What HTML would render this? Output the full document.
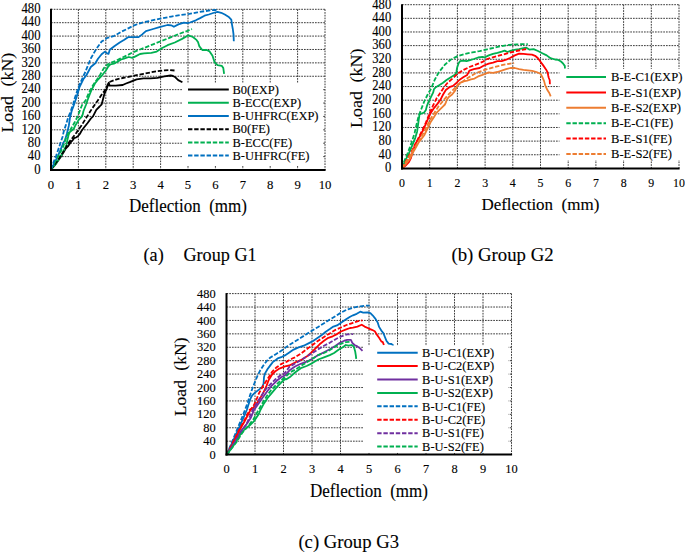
<!DOCTYPE html>
<html><head><meta charset="utf-8"><style>
html,body{margin:0;padding:0;background:#fff;}
svg{display:block;}
text{font-family:"Liberation Serif", serif;fill:#000;stroke:#000;stroke-width:0.12px;}
</style></head><body>
<svg width="685" height="552" viewBox="0 0 685 552">
<rect width="685" height="552" fill="#fff"/>
<g stroke="#3a3a3a" stroke-width="1" stroke-dasharray="1.7 1.05" fill="none">
<line x1="51.00" y1="156.61" x2="325.00" y2="156.61"/>
<line x1="51.00" y1="143.22" x2="325.00" y2="143.22"/>
<line x1="51.00" y1="129.82" x2="325.00" y2="129.82"/>
<line x1="51.00" y1="116.43" x2="325.00" y2="116.43"/>
<line x1="51.00" y1="103.04" x2="325.00" y2="103.04"/>
<line x1="51.00" y1="89.65" x2="325.00" y2="89.65"/>
<line x1="51.00" y1="76.26" x2="325.00" y2="76.26"/>
<line x1="51.00" y1="62.87" x2="325.00" y2="62.87"/>
<line x1="51.00" y1="49.48" x2="325.00" y2="49.48"/>
<line x1="51.00" y1="36.08" x2="325.00" y2="36.08"/>
<line x1="51.00" y1="22.69" x2="325.00" y2="22.69"/>
<line x1="51.00" y1="9.30" x2="325.00" y2="9.30"/>
<line x1="78.40" y1="9.30" x2="78.40" y2="170.00"/>
<line x1="105.80" y1="9.30" x2="105.80" y2="170.00"/>
<line x1="133.20" y1="9.30" x2="133.20" y2="170.00"/>
<line x1="160.60" y1="9.30" x2="160.60" y2="170.00"/>
<line x1="188.00" y1="9.30" x2="188.00" y2="170.00"/>
<line x1="215.40" y1="9.30" x2="215.40" y2="170.00"/>
<line x1="242.80" y1="9.30" x2="242.80" y2="170.00"/>
<line x1="270.20" y1="9.30" x2="270.20" y2="170.00"/>
<line x1="297.60" y1="9.30" x2="297.60" y2="170.00"/>
<line x1="325.00" y1="9.30" x2="325.00" y2="170.00"/>
</g>
<g fill="none" stroke-linejoin="round" stroke-linecap="butt">
<polyline points="51.0,169.5 55.1,164.8 58.2,160.4 61.4,155.9 64.0,151.5 65.9,148.3 68.4,145.8 70.9,142.0 72.8,140.1 74.1,138.2 76.0,137.5 77.9,136.3 79.8,134.0 81.3,131.2 83.8,127.8 87.6,123.0 90.9,118.5 93.0,116.3 96.3,109.8 99.6,106.5 101.7,104.3 102.8,100.0 104.5,93.5 106.1,90.2 107.7,85.9 108.8,82.6 109.6,85.7 115.8,85.7 122.7,85.0 126.0,83.5 129.7,82.2 136.6,79.4 143.5,78.4 150.5,78.4 157.4,77.8 164.3,76.4 170.6,75.5 173.0,76.0 175.4,77.3 178.2,80.1 182.4,82.2" stroke="#000000" stroke-width="1.8"/>
<polyline points="51.0,169.5 55.7,164.2 58.9,159.1 62.0,154.0 64.6,149.0 66.5,144.5 67.4,140.0 68.6,134.8 69.6,132.3 72.0,130.4 73.9,128.5 75.1,125.9 77.0,122.8 78.9,119.6 81.5,117.0 82.7,114.5 83.4,111.3 84.6,108.2 85.9,105.0 87.6,100.0 89.4,95.3 91.2,90.7 94.9,83.5 98.5,79.0 102.1,75.3 105.7,70.8 108.4,66.3 110.2,64.5 113.9,63.6 117.5,61.8 121.1,59.5 124.0,58.6 128.8,57.0 132.4,57.9 136.0,56.1 140.0,54.0 144.0,53.4 151.3,52.8 156.7,51.6 162.1,48.0 167.6,45.2 174.8,42.5 182.1,38.9 188.4,35.3 192.9,37.0 196.5,39.9 198.0,42.0 199.4,46.4 202.3,50.0 206.7,50.0 209.6,51.4 212.5,55.8 214.6,62.3 217.5,65.2 221.9,65.9 223.3,68.1 224.1,73.9" stroke="#00b050" stroke-width="1.8"/>
<polyline points="51.0,169.5 55.1,161.6 58.2,155.3 61.4,147.7 63.5,142.5 65.0,140.3 66.8,134.0 68.8,125.9 70.0,117.7 71.6,111.3 73.9,105.0 76.7,96.7 79.5,87.0 83.3,79.3 86.5,75.0 90.8,67.0 95.3,63.3 98.0,58.8 101.6,54.3 104.9,51.6 107.1,53.4 108.5,53.9 109.8,49.8 114.3,46.2 119.7,42.5 124.3,39.8 128.4,37.1 133.3,37.1 138.6,37.1 142.2,34.4 145.9,31.1 153.1,29.0 160.3,26.8 167.6,25.0 171.2,25.3 173.9,26.8 178.4,24.4 183.9,22.6 187.5,23.2 190.0,22.5 195.8,20.3 200.1,18.1 204.5,15.7 208.8,14.5 213.2,13.0 217.5,11.9 221.2,12.8 224.8,14.5 228.4,16.7 231.3,19.6 232.0,24.6 232.8,29.0 233.5,34.1 233.8,41.3" stroke="#0070c0" stroke-width="1.8"/>
<polyline points="51.0,169.5 58.0,160.0 64.0,151.0 68.8,142.6 76.2,133.0 81.1,126.1 86.5,117.4 92.0,108.7 97.4,101.1 101.7,94.6 105.0,90.2 107.2,85.9 109.3,82.1 115.8,79.6 122.7,78.0 129.7,76.6 136.6,75.2 143.5,73.8 150.5,72.4 157.4,71.2 164.3,70.3 169.9,70.1 175.5,70.6" stroke="#000000" stroke-width="1.8" stroke-dasharray="4.4 1.8"/>
<polyline points="51.0,169.5 55.0,162.0 57.6,157.5 60.1,152.8 62.7,147.7 64.8,141.8 65.8,138.2 67.5,134.8 70.0,130.4 72.6,125.9 75.1,121.5 77.0,117.7 78.9,113.2 80.5,108.8 82.1,105.0 85.8,100.0 89.4,91.6 93.0,85.3 96.7,79.9 100.3,74.4 103.9,68.1 107.5,64.5 111.1,62.7 115.7,60.9 120.2,58.6 124.0,56.8 128.5,54.6 132.4,52.5 140.0,49.5 144.0,48.0 153.1,44.3 162.1,40.7 171.2,37.1 180.2,33.5 187.5,30.8 192.0,29.0" stroke="#00b050" stroke-width="1.8" stroke-dasharray="4.4 1.8"/>
<polyline points="51.0,169.5 53.8,161.6 56.3,155.3 58.9,147.7 60.8,142.0 62.5,137.0 63.7,131.6 66.2,124.0 68.1,117.7 70.7,111.3 73.2,104.0 74.5,99.0 76.7,92.4 80.0,83.5 85.3,72.0 90.8,58.5 96.2,49.0 101.6,41.6 107.1,38.0 114.3,35.8 121.5,31.7 128.8,28.1 134.2,25.3 140.0,23.3 144.0,22.2 153.1,20.2 162.1,18.3 171.2,16.6 180.2,15.1 189.3,13.8 197.2,12.4 204.5,11.2 211.7,10.2 218.3,9.9" stroke="#0070c0" stroke-width="1.8" stroke-dasharray="4.4 1.8"/>
</g>
<rect x="182" y="83" width="141" height="82" fill="#fff"/>
<line x1="188" y1="89.60" x2="228.8" y2="89.60" stroke="#000000" stroke-width="2"/>
<text transform="translate(232.5,93.80) scale(1,1.05)" font-size="12.5">B0(EXP)</text>
<line x1="188" y1="102.80" x2="228.8" y2="102.80" stroke="#00b050" stroke-width="2"/>
<text transform="translate(232.5,107.00) scale(1,1.05)" font-size="12.5">B-ECC(EXP)</text>
<line x1="188" y1="116.00" x2="228.8" y2="116.00" stroke="#0070c0" stroke-width="2"/>
<text transform="translate(232.5,120.20) scale(1,1.05)" font-size="12.5">B-UHFRC(EXP)</text>
<line x1="188" y1="129.20" x2="228.8" y2="129.20" stroke="#000000" stroke-width="2" stroke-dasharray="4.4 1.8"/>
<text transform="translate(232.5,133.40) scale(1,1.05)" font-size="12.5">B0(FE)</text>
<line x1="188" y1="142.40" x2="228.8" y2="142.40" stroke="#00b050" stroke-width="2" stroke-dasharray="4.4 1.8"/>
<text transform="translate(232.5,146.60) scale(1,1.05)" font-size="12.5">B-ECC(FE)</text>
<line x1="188" y1="155.60" x2="228.8" y2="155.60" stroke="#0070c0" stroke-width="2" stroke-dasharray="4.4 1.8"/>
<text transform="translate(232.5,159.80) scale(1,1.05)" font-size="12.5">B-UHFRC(FE)</text>
<line x1="51" y1="8.80" x2="51" y2="171.00" stroke="#000" stroke-width="2"/>
<line x1="50" y1="170" x2="325.6" y2="170" stroke="#000" stroke-width="2"/>
<text transform="translate(40.50,173.80) scale(1,1.07)" font-size="12.7" text-anchor="end" xml:space="preserve">0</text>
<text transform="translate(40.50,160.41) scale(1,1.07)" font-size="12.7" text-anchor="end" xml:space="preserve">40</text>
<text transform="translate(40.50,147.02) scale(1,1.07)" font-size="12.7" text-anchor="end" xml:space="preserve">80</text>
<text transform="translate(40.50,133.62) scale(1,1.07)" font-size="12.7" text-anchor="end" xml:space="preserve">120</text>
<text transform="translate(40.50,120.23) scale(1,1.07)" font-size="12.7" text-anchor="end" xml:space="preserve">160</text>
<text transform="translate(40.50,106.84) scale(1,1.07)" font-size="12.7" text-anchor="end" xml:space="preserve">200</text>
<text transform="translate(40.50,93.45) scale(1,1.07)" font-size="12.7" text-anchor="end" xml:space="preserve">240</text>
<text transform="translate(40.50,80.06) scale(1,1.07)" font-size="12.7" text-anchor="end" xml:space="preserve">280</text>
<text transform="translate(40.50,66.67) scale(1,1.07)" font-size="12.7" text-anchor="end" xml:space="preserve">320</text>
<text transform="translate(40.50,53.28) scale(1,1.07)" font-size="12.7" text-anchor="end" xml:space="preserve">360</text>
<text transform="translate(40.50,39.88) scale(1,1.07)" font-size="12.7" text-anchor="end" xml:space="preserve">400</text>
<text transform="translate(40.50,26.49) scale(1,1.07)" font-size="12.7" text-anchor="end" xml:space="preserve">440</text>
<text transform="translate(40.50,13.10) scale(1,1.07)" font-size="12.7" text-anchor="end" xml:space="preserve">480</text>
<text transform="translate(51.00,188.7) scale(1,1.03)" font-size="12.7" text-anchor="middle">0</text>
<text transform="translate(78.40,188.7) scale(1,1.03)" font-size="12.7" text-anchor="middle">1</text>
<text transform="translate(105.80,188.7) scale(1,1.03)" font-size="12.7" text-anchor="middle">2</text>
<text transform="translate(133.20,188.7) scale(1,1.03)" font-size="12.7" text-anchor="middle">3</text>
<text transform="translate(160.60,188.7) scale(1,1.03)" font-size="12.7" text-anchor="middle">4</text>
<text transform="translate(188.00,188.7) scale(1,1.03)" font-size="12.7" text-anchor="middle">5</text>
<text transform="translate(215.40,188.7) scale(1,1.03)" font-size="12.7" text-anchor="middle">6</text>
<text transform="translate(242.80,188.7) scale(1,1.03)" font-size="12.7" text-anchor="middle">7</text>
<text transform="translate(270.20,188.7) scale(1,1.03)" font-size="12.7" text-anchor="middle">8</text>
<text transform="translate(297.60,188.7) scale(1,1.03)" font-size="12.7" text-anchor="middle">9</text>
<text transform="translate(325.00,188.7) scale(1,1.03)" font-size="12.7" text-anchor="middle">10</text>
<text transform="translate(129,212.4) scale(1,1.07)" font-size="17" xml:space="preserve">Deflection  (mm)</text>
<text transform="translate(7.3,114.3) rotate(-90) scale(1.05,1)" font-size="17" text-anchor="middle" dominant-baseline="central">Load</text>
<text transform="translate(7.3,69.6) rotate(-90) scale(1.05,1)" font-size="17" text-anchor="middle" dominant-baseline="central">(kN)</text>
<g stroke="#3a3a3a" stroke-width="1" stroke-dasharray="1.7 1.05" fill="none">
<line x1="402.00" y1="154.76" x2="679.00" y2="154.76"/>
<line x1="402.00" y1="141.12" x2="679.00" y2="141.12"/>
<line x1="402.00" y1="127.47" x2="679.00" y2="127.47"/>
<line x1="402.00" y1="113.83" x2="679.00" y2="113.83"/>
<line x1="402.00" y1="100.19" x2="679.00" y2="100.19"/>
<line x1="402.00" y1="86.55" x2="679.00" y2="86.55"/>
<line x1="402.00" y1="72.91" x2="679.00" y2="72.91"/>
<line x1="402.00" y1="59.27" x2="679.00" y2="59.27"/>
<line x1="402.00" y1="45.62" x2="679.00" y2="45.62"/>
<line x1="402.00" y1="31.98" x2="679.00" y2="31.98"/>
<line x1="402.00" y1="18.34" x2="679.00" y2="18.34"/>
<line x1="402.00" y1="4.70" x2="679.00" y2="4.70"/>
<line x1="429.70" y1="4.70" x2="429.70" y2="168.40"/>
<line x1="457.40" y1="4.70" x2="457.40" y2="168.40"/>
<line x1="485.10" y1="4.70" x2="485.10" y2="168.40"/>
<line x1="512.80" y1="4.70" x2="512.80" y2="168.40"/>
<line x1="540.50" y1="4.70" x2="540.50" y2="168.40"/>
<line x1="568.20" y1="4.70" x2="568.20" y2="168.40"/>
<line x1="595.90" y1="4.70" x2="595.90" y2="168.40"/>
<line x1="623.60" y1="4.70" x2="623.60" y2="168.40"/>
<line x1="651.30" y1="4.70" x2="651.30" y2="168.40"/>
<line x1="679.00" y1="4.70" x2="679.00" y2="168.40"/>
</g>
<g fill="none" stroke-linejoin="round" stroke-linecap="butt">
<polyline points="402.0,168.3 405.1,160.9 408.9,153.3 412.7,144.4 415.2,138.1 417.1,131.7 418.6,120.8 419.5,114.4 421.3,113.5 424.1,112.6 425.9,109.9 426.8,106.3 428.6,101.7 430.9,97.2 433.1,92.7 434.0,89.1 435.8,87.2 439.5,85.0 443.1,82.7 446.5,80.0 452.0,76.4 455.7,74.2 456.4,72.0 457.1,67.7 458.6,63.3 460.0,61.2 463.6,60.7 466.5,61.2 470.1,60.1 473.8,59.0 478.1,57.5 482.5,56.8 485.0,57.3 488.7,55.4 493.0,53.9 497.4,52.9 501.7,51.7 504.6,50.6 507.5,52.0 511.2,50.6 515.5,49.6 519.1,49.1 523.5,48.1 526.4,47.7 529.3,49.6 533.6,49.1 538.0,51.0 542.3,53.2 546.7,55.4 550.5,58.2 555.0,59.5 558.3,59.9 561.0,61.5 563.2,63.7 564.8,65.9 565.0,68.6" stroke="#00b050" stroke-width="1.8"/>
<polyline points="402.0,168.3 405.1,166.0 408.9,162.2 410.8,158.4 412.7,152.0 415.2,144.4 419.0,138.1 423.2,130.0 426.8,121.7 430.4,113.5 434.0,108.1 437.6,103.6 440.4,99.9 443.1,94.5 445.8,90.0 449.4,87.2 453.0,85.9 456.7,82.7 459.3,80.0 463.6,77.1 467.2,74.9 469.4,70.6 473.8,69.1 479.6,68.0 483.9,65.5 488.7,63.6 493.0,62.6 497.4,61.2 501.7,61.2 506.1,59.7 510.4,57.8 514.8,55.4 519.1,53.6 523.5,53.9 527.8,54.3 532.0,54.6 535.1,55.8 538.0,58.3 540.5,61.7 543.2,65.4 546.0,69.4 547.7,72.5 548.2,75.5 548.8,78.0 549.7,80.0 549.9,84.3" stroke="#ff0000" stroke-width="1.8"/>
<polyline points="402.0,168.3 406.3,163.4 410.1,158.4 414.0,150.7 419.0,141.9 424.1,135.5 426.8,130.0 430.4,122.6 434.0,117.1 436.7,112.6 439.5,109.9 443.1,106.3 444.9,104.5 445.8,102.6 446.7,99.9 448.5,97.2 452.1,94.5 454.9,90.9 457.6,85.4 460.0,82.9 463.6,81.4 467.2,80.7 470.9,79.3 474.5,78.6 478.1,76.4 482.5,74.9 484.3,74.2 488.7,72.3 493.0,72.8 497.4,72.0 501.7,70.6 506.1,69.1 510.4,68.0 514.8,68.0 519.1,69.1 523.5,69.9 527.8,70.3 532.2,70.9 536.5,72.0 540.5,73.8 542.4,77.2 544.1,81.1 545.2,85.4 547.4,90.1 549.3,93.0 550.7,96.4" stroke="#ed7d31" stroke-width="1.8"/>
<polyline points="402.0,168.3 404.4,160.9 407.6,153.3 411.4,143.1 414.6,133.0 416.8,123.5 418.6,116.2 421.3,109.0 424.1,101.7 427.7,94.5 431.3,88.2 434.6,80.0 439.0,72.0 444.8,64.8 450.6,59.7 457.8,56.1 465.1,53.9 472.3,52.4 479.6,51.1 487.2,49.3 494.5,47.6 501.7,46.1 509.0,44.9 516.2,44.4 523.5,44.1 527.8,44.1" stroke="#00b050" stroke-width="1.8" stroke-dasharray="4.4 1.8"/>
<polyline points="402.0,168.3 407.6,158.4 412.7,149.5 417.8,139.3 422.8,129.2 425.9,122.6 429.5,113.5 433.1,105.4 436.7,98.1 440.4,92.7 444.0,87.2 447.6,82.7 453.5,77.8 457.8,73.5 463.6,69.9 469.4,67.0 475.2,64.8 482.5,61.9 487.2,59.0 494.5,56.8 501.7,54.9 509.0,52.9 516.2,51.0 523.5,49.6 527.1,48.8" stroke="#ff0000" stroke-width="1.8" stroke-dasharray="4.4 1.8"/>
<polyline points="402.0,168.3 407.6,159.6 412.7,150.7 419.0,140.6 425.0,130.0 429.5,120.8 434.0,113.5 438.6,106.3 443.1,100.8 447.6,95.4 453.0,90.0 457.0,85.7 462.5,81.7 468.0,77.8 475.2,73.5 482.5,70.6 487.2,69.1 494.5,67.0 501.7,65.2 509.0,63.8 514.1,63.0" stroke="#ed7d31" stroke-width="1.8" stroke-dasharray="4.4 1.8"/>
</g>
<rect x="559.5" y="68.8" width="121.5" height="91.2" fill="#fff"/>
<line x1="566.3" y1="77.00" x2="606" y2="77.00" stroke="#00b050" stroke-width="2"/>
<text transform="translate(611,81.20) scale(1,1.05)" font-size="12.6">B-E-C1(EXP)</text>
<line x1="566.3" y1="92.40" x2="606" y2="92.40" stroke="#ff0000" stroke-width="2"/>
<text transform="translate(611,96.60) scale(1,1.05)" font-size="12.6">B-E-S1(EXP)</text>
<line x1="566.3" y1="107.80" x2="606" y2="107.80" stroke="#ed7d31" stroke-width="2"/>
<text transform="translate(611,112.00) scale(1,1.05)" font-size="12.6">B-E-S2(EXP)</text>
<line x1="566.3" y1="123.20" x2="606" y2="123.20" stroke="#00b050" stroke-width="2" stroke-dasharray="4.4 1.8"/>
<text transform="translate(611,127.40) scale(1,1.05)" font-size="12.6">B-E-C1(FE)</text>
<line x1="566.3" y1="138.60" x2="606" y2="138.60" stroke="#ff0000" stroke-width="2" stroke-dasharray="4.4 1.8"/>
<text transform="translate(611,142.80) scale(1,1.05)" font-size="12.6">B-E-S1(FE)</text>
<line x1="566.3" y1="154.00" x2="606" y2="154.00" stroke="#ed7d31" stroke-width="2" stroke-dasharray="4.4 1.8"/>
<text transform="translate(611,158.20) scale(1,1.05)" font-size="12.6">B-E-S2(FE)</text>
<line x1="402" y1="4.20" x2="402" y2="169.40" stroke="#000" stroke-width="2"/>
<line x1="401" y1="168.4" x2="679.6" y2="168.4" stroke="#000" stroke-width="2"/>
<text transform="translate(391.20,172.20) scale(1,1.08)" font-size="12.6" text-anchor="end" xml:space="preserve">0</text>
<text transform="translate(391.20,158.56) scale(1,1.08)" font-size="12.6" text-anchor="end" xml:space="preserve">40</text>
<text transform="translate(391.20,144.92) scale(1,1.08)" font-size="12.6" text-anchor="end" xml:space="preserve">80</text>
<text transform="translate(391.20,131.28) scale(1,1.08)" font-size="12.6" text-anchor="end" xml:space="preserve">120</text>
<text transform="translate(391.20,117.63) scale(1,1.08)" font-size="12.6" text-anchor="end" xml:space="preserve">160</text>
<text transform="translate(391.20,103.99) scale(1,1.08)" font-size="12.6" text-anchor="end" xml:space="preserve">200</text>
<text transform="translate(391.20,90.35) scale(1,1.08)" font-size="12.6" text-anchor="end" xml:space="preserve">240</text>
<text transform="translate(391.20,76.71) scale(1,1.08)" font-size="12.6" text-anchor="end" xml:space="preserve">280</text>
<text transform="translate(391.20,63.07) scale(1,1.08)" font-size="12.6" text-anchor="end" xml:space="preserve">320</text>
<text transform="translate(391.20,49.42) scale(1,1.08)" font-size="12.6" text-anchor="end" xml:space="preserve">360</text>
<text transform="translate(391.20,35.78) scale(1,1.08)" font-size="12.6" text-anchor="end" xml:space="preserve">400</text>
<text transform="translate(391.20,22.14) scale(1,1.08)" font-size="12.6" text-anchor="end" xml:space="preserve">440</text>
<text transform="translate(391.20,8.50) scale(1,1.08)" font-size="12.6" text-anchor="end" xml:space="preserve">480</text>
<text transform="translate(402.00,187.3) scale(1,1.12)" font-size="11.9" text-anchor="middle">0</text>
<text transform="translate(429.70,187.3) scale(1,1.12)" font-size="11.9" text-anchor="middle">1</text>
<text transform="translate(457.40,187.3) scale(1,1.12)" font-size="11.9" text-anchor="middle">2</text>
<text transform="translate(485.10,187.3) scale(1,1.12)" font-size="11.9" text-anchor="middle">3</text>
<text transform="translate(512.80,187.3) scale(1,1.12)" font-size="11.9" text-anchor="middle">4</text>
<text transform="translate(540.50,187.3) scale(1,1.12)" font-size="11.9" text-anchor="middle">5</text>
<text transform="translate(568.20,187.3) scale(1,1.12)" font-size="11.9" text-anchor="middle">6</text>
<text transform="translate(595.90,187.3) scale(1,1.12)" font-size="11.9" text-anchor="middle">7</text>
<text transform="translate(623.60,187.3) scale(1,1.12)" font-size="11.9" text-anchor="middle">8</text>
<text transform="translate(651.30,187.3) scale(1,1.12)" font-size="11.9" text-anchor="middle">9</text>
<text transform="translate(679.00,187.3) scale(1,1.12)" font-size="11.9" text-anchor="middle">10</text>
<text transform="translate(481.4,210.0) scale(1,1.02)" font-size="17" xml:space="preserve">Deflection  (mm)</text>
<text transform="translate(356.4,109.5) rotate(-90) scale(1.06,1)" font-size="17" text-anchor="middle" dominant-baseline="central">Load</text>
<text transform="translate(356.4,65.4) rotate(-90) scale(1.06,1)" font-size="17" text-anchor="middle" dominant-baseline="central">(kN)</text>
<g stroke="#3a3a3a" stroke-width="1" stroke-dasharray="1.7 1.05" fill="none">
<line x1="226.50" y1="441.18" x2="511.50" y2="441.18"/>
<line x1="226.50" y1="427.77" x2="511.50" y2="427.77"/>
<line x1="226.50" y1="414.35" x2="511.50" y2="414.35"/>
<line x1="226.50" y1="400.93" x2="511.50" y2="400.93"/>
<line x1="226.50" y1="387.52" x2="511.50" y2="387.52"/>
<line x1="226.50" y1="374.10" x2="511.50" y2="374.10"/>
<line x1="226.50" y1="360.68" x2="511.50" y2="360.68"/>
<line x1="226.50" y1="347.27" x2="511.50" y2="347.27"/>
<line x1="226.50" y1="333.85" x2="511.50" y2="333.85"/>
<line x1="226.50" y1="320.43" x2="511.50" y2="320.43"/>
<line x1="226.50" y1="307.02" x2="511.50" y2="307.02"/>
<line x1="226.50" y1="293.60" x2="511.50" y2="293.60"/>
<line x1="255.00" y1="293.60" x2="255.00" y2="454.60"/>
<line x1="283.50" y1="293.60" x2="283.50" y2="454.60"/>
<line x1="312.00" y1="293.60" x2="312.00" y2="454.60"/>
<line x1="340.50" y1="293.60" x2="340.50" y2="454.60"/>
<line x1="369.00" y1="293.60" x2="369.00" y2="454.60"/>
<line x1="397.50" y1="293.60" x2="397.50" y2="454.60"/>
<line x1="426.00" y1="293.60" x2="426.00" y2="454.60"/>
<line x1="454.50" y1="293.60" x2="454.50" y2="454.60"/>
<line x1="483.00" y1="293.60" x2="483.00" y2="454.60"/>
<line x1="511.50" y1="293.60" x2="511.50" y2="454.60"/>
</g>
<g fill="none" stroke-linejoin="round" stroke-linecap="butt">
<polyline points="226.8,454.6 233.0,441.1 238.6,428.7 243.1,418.6 246.8,410.0 248.6,404.3 250.4,398.9 252.2,395.3 255.0,392.6 258.6,389.9 262.2,387.1 263.6,383.5 264.0,377.2 264.9,373.6 267.6,369.0 270.3,365.4 273.1,361.8 275.8,360.0 277.7,358.3 282.0,356.8 284.9,355.4 289.3,352.5 293.6,349.6 298.0,347.6 303.7,345.7 308.0,343.6 312.4,341.4 316.7,338.5 321.1,335.6 325.4,332.0 329.8,329.1 333.4,326.6 337.0,325.4 341.4,322.5 345.7,319.6 350.1,316.7 353.0,315.3 356.7,313.8 360.3,311.7 363.2,312.7 367.5,312.4 370.4,313.1 372.6,315.3 375.5,318.9 377.7,322.5 379.1,326.9 381.3,330.5 383.5,333.4 384.9,337.0 386.4,340.7 388.6,343.6 391.4,344.0 393.6,345.7" stroke="#0070c0" stroke-width="1.8"/>
<polyline points="226.8,454.6 234.1,441.1 239.7,429.8 244.2,422.0 249.5,412.0 250.4,410.0 252.5,408.5 255.6,405.0 258.8,400.4 262.9,393.6 266.5,385.9 268.7,380.0 272.1,374.5 275.8,370.9 279.4,368.6 285.0,366.3 289.3,365.5 293.6,363.3 297.0,361.5 300.8,360.2 306.6,356.6 310.9,353.0 315.3,348.6 319.6,344.3 324.0,340.7 328.3,337.8 332.7,336.3 337.0,334.1 341.0,331.5 345.5,329.6 350.1,328.0 353.0,327.6 357.4,326.6 361.7,324.7 364.6,326.6 368.3,328.3 371.9,329.8 374.8,331.2 377.0,334.9 379.1,337.8 381.3,341.4 382.8,342.1 383.9,345.0" stroke="#ff0000" stroke-width="1.8"/>
<polyline points="226.8,454.6 235.2,441.1 240.9,431.0 246.5,424.2 251.0,417.5 254.0,410.0 258.6,403.4 263.1,397.1 267.6,390.8 272.1,385.3 276.7,380.8 281.2,377.2 285.0,375.4 289.3,370.6 295.0,366.5 300.8,363.8 306.6,361.7 312.4,358.8 318.2,355.1 324.0,352.2 329.8,349.3 335.6,345.7 339.9,342.8 344.3,340.7 347.2,339.9 350.9,339.9 352.3,342.8 354.5,345.0 357.4,346.4 360.3,348.6 362.5,350.8" stroke="#7030a0" stroke-width="1.8"/>
<polyline points="226.8,454.6 235.2,443.3 239.7,435.4 244.2,429.8 249.8,425.3 254.3,420.8 258.8,414.0 260.4,410.0 264.0,403.4 267.6,398.0 272.1,392.6 276.7,387.1 281.2,382.6 285.0,379.0 286.4,379.3 290.7,376.4 295.0,372.5 300.8,368.2 306.6,366.0 312.4,363.1 318.2,359.5 324.0,357.3 329.8,355.1 334.1,353.0 338.5,349.8 342.8,347.2 345.8,345.0 348.7,345.7 351.6,345.0 353.8,346.4 355.2,351.5 355.9,355.9 356.2,358.8" stroke="#00b050" stroke-width="1.8"/>
<polyline points="226.8,454.6 231.9,442.2 237.5,428.7 242.0,417.5 245.0,410.0 247.7,402.5 250.0,395.3 252.2,389.0 255.0,381.7 257.7,375.4 260.4,370.0 264.0,364.5 267.6,360.0 270.4,357.5 276.2,353.9 282.0,350.3 287.8,345.9 293.6,342.3 300.8,337.8 306.6,334.1 312.4,330.5 318.2,326.9 324.0,323.3 329.8,319.6 335.6,316.0 341.4,312.4 347.2,309.5 354.5,307.3 360.3,306.3 365.4,305.6 369.7,305.6" stroke="#0070c0" stroke-width="1.8" stroke-dasharray="4.4 1.8"/>
<polyline points="226.8,454.6 233.0,442.2 238.6,431.0 244.2,420.8 249.5,410.0 251.5,408.5 254.0,405.0 257.0,398.1 258.8,393.6 263.0,386.0 266.9,380.0 270.5,374.5 272.1,371.8 276.7,367.2 281.2,364.1 285.0,362.3 286.4,361.9 292.2,358.5 295.0,357.3 300.8,353.7 306.6,349.3 312.4,345.0 318.2,340.7 324.0,337.0 329.8,333.4 335.6,329.8 341.0,327.5 346.5,325.0 351.6,323.3 357.4,321.3 362.5,320.4" stroke="#ff0000" stroke-width="1.8" stroke-dasharray="4.4 1.8"/>
<polyline points="226.8,454.6 234.7,442.2 240.9,432.1 246.5,424.2 250.0,416.0 253.1,408.9 257.7,401.6 262.2,394.4 266.7,388.0 271.2,383.5 275.8,379.0 280.3,375.4 285.0,372.7 289.3,367.0 295.0,363.5 300.8,360.2 306.6,356.6 312.4,353.0 318.2,349.3 324.0,345.7 329.8,342.8 335.6,339.2 341.4,336.3 347.2,334.4 353.0,334.1" stroke="#7030a0" stroke-width="1.8" stroke-dasharray="4.4 1.8"/>
<polyline points="226.8,454.6 236.4,442.2 242.0,433.2 247.6,426.5 253.2,419.7 258.0,411.0 258.6,410.0 262.2,403.4 266.7,396.2 271.2,389.9 275.8,385.3 280.3,380.8 285.0,377.2 290.7,372.0 295.5,369.5 300.8,366.0 306.6,362.4 312.4,358.8 318.2,355.1 324.0,353.0 329.8,350.1 335.6,346.4 341.4,343.6 345.7,342.1 351.2,341.8" stroke="#00b050" stroke-width="1.8" stroke-dasharray="4.4 1.8"/>
</g>
<rect x="363.5" y="345.5" width="145.0" height="106.5" fill="#fff"/>
<line x1="377.2" y1="352.70" x2="417.7" y2="352.70" stroke="#0070c0" stroke-width="2"/>
<text transform="translate(422.1,356.90) scale(1,1.05)" font-size="12.5">B-U-C1(EXP)</text>
<line x1="377.2" y1="366.11" x2="417.7" y2="366.11" stroke="#ff0000" stroke-width="2"/>
<text transform="translate(422.1,370.31) scale(1,1.05)" font-size="12.5">B-U-C2(EXP)</text>
<line x1="377.2" y1="379.52" x2="417.7" y2="379.52" stroke="#7030a0" stroke-width="2"/>
<text transform="translate(422.1,383.72) scale(1,1.05)" font-size="12.5">B-U-S1(EXP)</text>
<line x1="377.2" y1="392.93" x2="417.7" y2="392.93" stroke="#00b050" stroke-width="2"/>
<text transform="translate(422.1,397.13) scale(1,1.05)" font-size="12.5">B-U-S2(EXP)</text>
<line x1="377.2" y1="406.34" x2="417.7" y2="406.34" stroke="#0070c0" stroke-width="2" stroke-dasharray="4.4 1.8"/>
<text transform="translate(422.1,410.54) scale(1,1.05)" font-size="12.5">B-U-C1(FE)</text>
<line x1="377.2" y1="419.75" x2="417.7" y2="419.75" stroke="#ff0000" stroke-width="2" stroke-dasharray="4.4 1.8"/>
<text transform="translate(422.1,423.95) scale(1,1.05)" font-size="12.5">B-U-C2(FE)</text>
<line x1="377.2" y1="433.16" x2="417.7" y2="433.16" stroke="#7030a0" stroke-width="2" stroke-dasharray="4.4 1.8"/>
<text transform="translate(422.1,437.36) scale(1,1.05)" font-size="12.5">B-U-S1(FE)</text>
<line x1="377.2" y1="446.57" x2="417.7" y2="446.57" stroke="#00b050" stroke-width="2" stroke-dasharray="4.4 1.8"/>
<text transform="translate(422.1,450.77) scale(1,1.05)" font-size="12.5">B-U-S2(FE)</text>
<line x1="226.5" y1="293.10" x2="226.5" y2="455.60" stroke="#000" stroke-width="2"/>
<line x1="225.5" y1="454.6" x2="512.1" y2="454.6" stroke="#000" stroke-width="2"/>
<text transform="translate(215.60,458.70) scale(1,1.09)" font-size="12.4" text-anchor="end" xml:space="preserve">0</text>
<text transform="translate(215.60,445.28) scale(1,1.09)" font-size="12.4" text-anchor="end" xml:space="preserve">40</text>
<text transform="translate(215.60,431.87) scale(1,1.09)" font-size="12.4" text-anchor="end" xml:space="preserve">80</text>
<text transform="translate(215.60,418.45) scale(1,1.09)" font-size="12.4" text-anchor="end" xml:space="preserve">120</text>
<text transform="translate(215.60,405.03) scale(1,1.09)" font-size="12.4" text-anchor="end" xml:space="preserve">160</text>
<text transform="translate(215.60,391.62) scale(1,1.09)" font-size="12.4" text-anchor="end" xml:space="preserve">200</text>
<text transform="translate(215.60,378.20) scale(1,1.09)" font-size="12.4" text-anchor="end" xml:space="preserve">240</text>
<text transform="translate(215.60,364.78) scale(1,1.09)" font-size="12.4" text-anchor="end" xml:space="preserve">280</text>
<text transform="translate(215.60,351.37) scale(1,1.09)" font-size="12.4" text-anchor="end" xml:space="preserve">320</text>
<text transform="translate(215.60,337.95) scale(1,1.09)" font-size="12.4" text-anchor="end" xml:space="preserve">360</text>
<text transform="translate(215.60,324.53) scale(1,1.09)" font-size="12.4" text-anchor="end" xml:space="preserve">400</text>
<text transform="translate(215.60,311.12) scale(1,1.09)" font-size="12.4" text-anchor="end" xml:space="preserve">440</text>
<text transform="translate(215.60,297.70) scale(1,1.09)" font-size="12.4" text-anchor="end" xml:space="preserve">480</text>
<text transform="translate(226.50,473.4) scale(1,1.02)" font-size="12.4" text-anchor="middle">0</text>
<text transform="translate(255.00,473.4) scale(1,1.02)" font-size="12.4" text-anchor="middle">1</text>
<text transform="translate(283.50,473.4) scale(1,1.02)" font-size="12.4" text-anchor="middle">2</text>
<text transform="translate(312.00,473.4) scale(1,1.02)" font-size="12.4" text-anchor="middle">3</text>
<text transform="translate(340.50,473.4) scale(1,1.02)" font-size="12.4" text-anchor="middle">4</text>
<text transform="translate(369.00,473.4) scale(1,1.02)" font-size="12.4" text-anchor="middle">5</text>
<text transform="translate(397.50,473.4) scale(1,1.02)" font-size="12.4" text-anchor="middle">6</text>
<text transform="translate(426.00,473.4) scale(1,1.02)" font-size="12.4" text-anchor="middle">7</text>
<text transform="translate(454.50,473.4) scale(1,1.02)" font-size="12.4" text-anchor="middle">8</text>
<text transform="translate(483.00,473.4) scale(1,1.02)" font-size="12.4" text-anchor="middle">9</text>
<text transform="translate(511.50,473.4) scale(1,1.02)" font-size="12.4" text-anchor="middle">10</text>
<text transform="translate(310,496.6) scale(1,1.1)" font-size="17" xml:space="preserve">Deflection  (mm)</text>
<text transform="translate(180.3,398.1) rotate(-90) scale(1.035,1)" font-size="17" text-anchor="middle" dominant-baseline="central">Load</text>
<text transform="translate(180.3,354.1) rotate(-90) scale(1.035,1)" font-size="17" text-anchor="middle" dominant-baseline="central">(kN)</text>
<text x="143.5" y="261.2" font-size="18.2">(a)</text>
<text x="183.4" y="261.2" font-size="18.2">Group G1</text>
<text x="451.4" y="261.2" font-size="18.8">(b) Group G2</text>
<text x="298.4" y="547.6" font-size="18.7">(c) Group G3</text>
</svg>
</body></html>
